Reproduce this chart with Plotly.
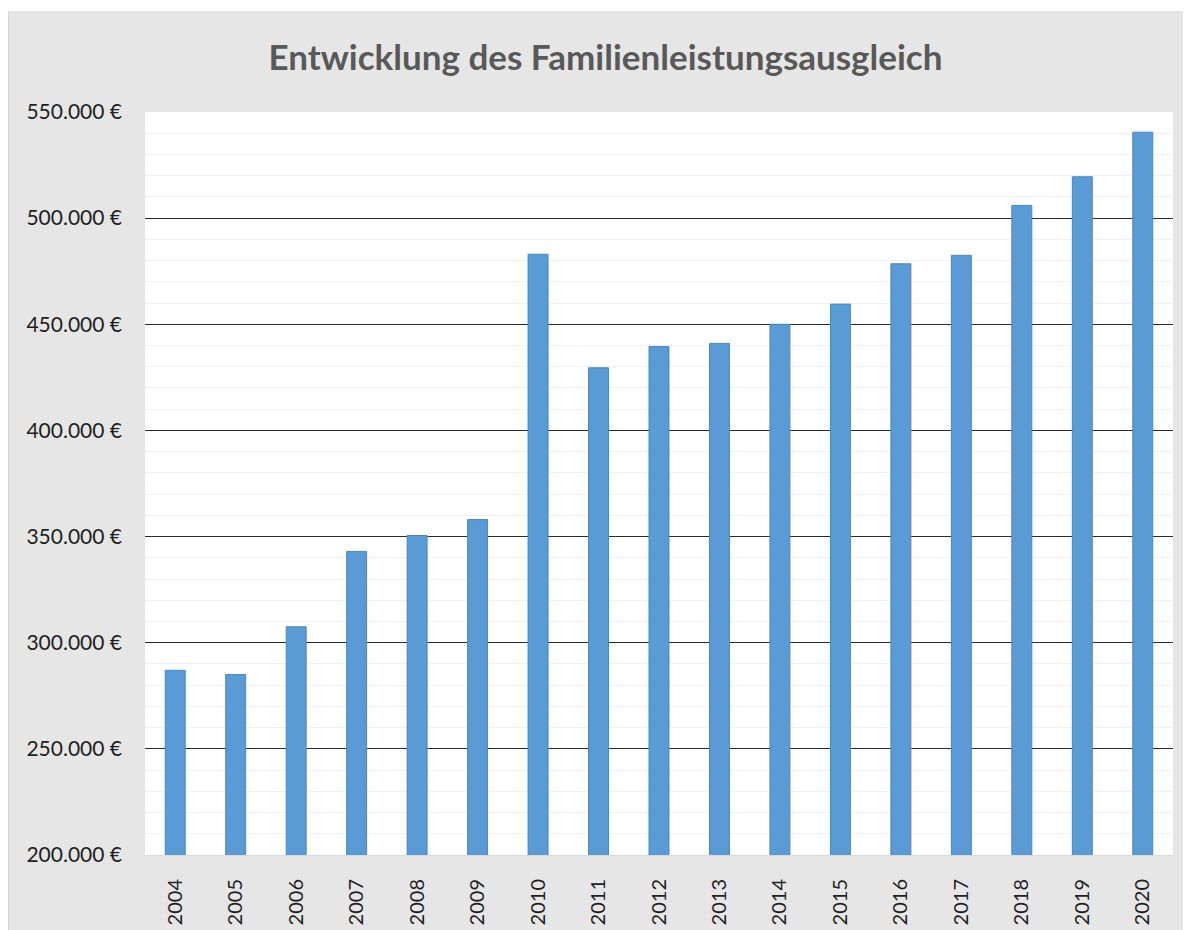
import plotly.graph_objects as go

years = [str(y) for y in range(2004, 2021)]
amounts = [287000, 285000, 307500, 343000, 350500, 358000, 483000, 429500,
           439500, 441000, 450000, 459500, 478500, 482500, 506000, 519500, 540500]

y_ticks = list(range(200000, 550001, 50000))
y_labels = [f"{v:,}".replace(",", ".") + " €" for v in y_ticks]

# page body adds an 8px offset, so the figure is a bit smaller than the window
W, H = 1183, 922
margin = dict(l=137, r=18, t=104, b=75)
plot_w = W - margin["l"] - margin["r"]
plot_h = H - margin["t"] - margin["b"]

fig = go.Figure(go.Bar(
    x=years,
    y=amounts,
    marker=dict(color="#5b9bd5", line=dict(color="#4a86c0", width=1)),
    width=0.33,
))

# white strip on top + thin border around the chart area
top = 1 + margin["t"] / plot_h
left = -margin["l"] / plot_w
right = 1 + margin["r"] / plot_w
bottom = -margin["b"] / plot_h
strip = 1 + (margin["t"] - 4) / plot_h
fig.add_shape(type="rect", xref="paper", yref="paper",
              x0=left, x1=right, y0=strip, y1=top,
              fillcolor="white", line_width=0)
fig.add_shape(type="rect", xref="paper", yref="paper",
              x0=left + 0.5 / plot_w, x1=right + 20 / plot_w,
              y0=bottom - 10 / plot_h, y1=strip,
              fillcolor="rgba(0,0,0,0)", line=dict(color="#d4d4d4", width=1))

fig.update_layout(
    width=W, height=H,
    margin=margin,
    paper_bgcolor="#e6e6e6",
    plot_bgcolor="white",
    font=dict(family="Lato, sans-serif", color="#262626"),
    showlegend=False,
    title=dict(
        text="<b>Entwicklung des Familienleistungsausgleich</b>",
        x=0.505, xanchor="center", y=0.946, yanchor="middle",
        font=dict(size=35, color="#595959", family="Lato, sans-serif"),
    ),
)

fig.update_yaxes(
    range=[200000, 550000],
    tickvals=y_ticks, ticktext=y_labels,
    tickfont=dict(size=21, color="#1f1f1f"),
    showgrid=True, gridcolor="#2b2b2b", gridwidth=1,
    minor=dict(dtick=10000, showgrid=True, gridcolor="#f0f0f0", gridwidth=1),
    zeroline=False, showline=False, ticks="",
    ticklabelstandoff=22, automargin=False,
)

fig.update_xaxes(
    tickangle=-90,
    tickfont=dict(size=20, color="#1f1f1f"),
    showline=True, linecolor="#d9d9d9", linewidth=1,
    ticks="", ticklabelstandoff=15, automargin=False,
)

fig.write_html("out.html")
